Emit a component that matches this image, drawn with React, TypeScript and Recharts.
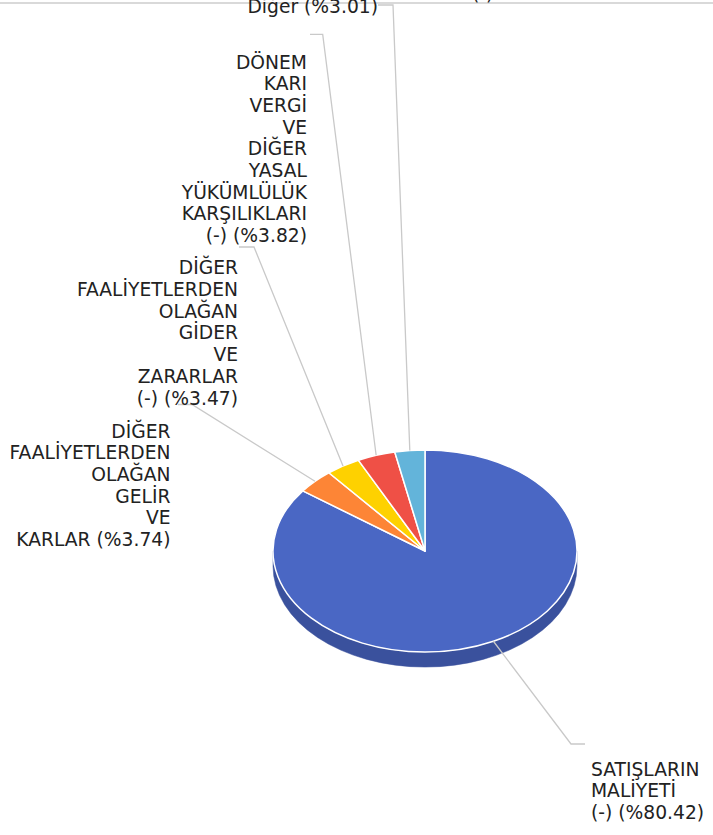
import { PieChart, Pie, Cell } from 'recharts';

const categories = [
  'SATIŞLARIN\nMALİYETİ\n(-)',
  'DİĞER\nFAALİYETLERDEN\nOLAĞAN\nGELİR\nVE\nKARLAR',
  'DİĞER\nFAALİYETLERDEN\nOLAĞAN\nGİDER\nVE\nZARARLAR\n(-)',
  'DÖNEM\nKARI\nVERGİ\nVE\nDİĞER\nYASAL\nYÜKÜMLÜLÜK\nKARŞILIKLARI\n(-)',
  'Diğer',
];
const values = [80.42, 3.74, 3.47, 3.82, 3.01];

const topColors = ['#4a67c4', '#fd8536', '#fed100', '#ef5046', '#63b4da'];
const sideColors = ['#3a519d', '#c86a2b', '#caa600', '#bd4038', '#4f8fae'];

// where Excel put each label: leader elbow, leader end, text edge, first baseline
const labelLayout = [
  { elbow: [571, 744], end: [585, 744], x: 591, y: 775.5, anchor: 'start' },
  { elbow: [192, 404.5], end: [178, 404.5], x: 170.5, y: 437.5, anchor: 'end' },
  { elbow: [254, 247], end: [239, 247], x: 238, y: 274.3, anchor: 'end' },
  { elbow: [322.7, 34.3], end: [310, 34.3], x: 307, y: 68.5, anchor: 'end' },
  { elbow: [393, 5], end: [378, 5], x: 378, y: 12.5, anchor: 'end' },
];

const data = categories.map((name, i) => ({ name, value: values[i], side: sideColors[i] }));

const TILT = 0.665;
const DEPTH = 15;
const LINE_H = 21.7;
const FONT_SIZE = 18.7;
const FONT = '"DejaVu Sans", Verdana, sans-serif';
const RAD = Math.PI / 180;

const pt = (cx: number, cy: number, rx: number, ry: number, deg: number) => [
  cx + rx * Math.cos(deg * RAD),
  cy - ry * Math.sin(deg * RAD),
];

function EllipseSector(props: any) {
  const { cx, cy, outerRadius, startAngle, endAngle, fill, payload } = props;
  const rx = outerRadius;
  const ry = outerRadius * TILT;
  const lo = Math.min(startAngle, endAngle);
  const hi = Math.max(startAngle, endAngle);

  // side wall only for the front (lower) half of the disc
  const walls: string[] = [];
  for (let k = -2; k <= 2; k++) {
    const a = Math.max(lo, -180 + 360 * k);
    const b = Math.min(hi, 360 * k);
    if (b > a) {
      const [x1, y1] = pt(cx, cy, rx, ry, b);
      const [x2, y2] = pt(cx, cy, rx, ry, a);
      walls.push(
        `M${x1},${y1} A${rx},${ry} 0 0 1 ${x2},${y2} L${x2},${y2 + DEPTH} A${rx},${ry} 0 0 0 ${x1},${y1 + DEPTH} Z`
      );
    }
  }

  const [sx, sy] = pt(cx, cy, rx, ry, startAngle);
  const [ex, ey] = pt(cx, cy, rx, ry, endAngle);
  const large = Math.abs(startAngle - endAngle) > 180 ? 1 : 0;
  const top = `M${cx},${cy} L${sx},${sy} A${rx},${ry} 0 ${large} 1 ${ex},${ey} Z`;
  const side = payload?.side ?? payload?.payload?.side ?? '#3a519d';

  return (
    <g>
      {walls.map((d, i) => (
        <path key={i} d={d} fill={side} stroke={side} strokeWidth={0.5} />
      ))}
      <path d={top} fill={fill} stroke="#ffffff" strokeWidth={1.5} strokeLinejoin="round" />
    </g>
  );
}

const renderLabel = (props: any) => {
  const { cx, cy, outerRadius, midAngle, index } = props;
  const L = labelLayout[index];
  const [sx, sy] = pt(cx, cy, outerRadius, outerRadius * TILT, midAngle);
  const lines = categories[index].split('\n');
  lines[lines.length - 1] += ` (%${values[index].toFixed(2)})`;
  return (
    <g key={`lbl-${index}`}>
      <polyline
        points={`${sx},${sy} ${L.elbow[0]},${L.elbow[1]} ${L.end[0]},${L.end[1]}`}
        fill="none"
        stroke="#c9c9c9"
        strokeWidth={1.3}
      />
      <text textAnchor={L.anchor} fontFamily={FONT} fontSize={FONT_SIZE} fill="#222">
        {lines.map((ln, i) => (
          <tspan key={i} x={L.x} y={L.y + i * LINE_H}>
            {ln}
          </tspan>
        ))}
      </text>
    </g>
  );
};

export default function App() {
  return (
    <div style={{ position: 'absolute', left: 0, top: 0, width: 713, height: 835, background: '#fff' }}>
      <svg width={713} height={835} style={{ position: 'absolute', left: 0, top: 0 }}>
        <line x1={0} y1={3} x2={713} y2={3} stroke="#cccccc" strokeWidth={1.5} />
        <text x={472} y={0.3} fontFamily={FONT} fontSize={FONT_SIZE} fill="#222">
          (-)
        </text>
      </svg>
      <div style={{ position: 'absolute', left: 0, top: 0 }}>
        <PieChart width={713} height={835} margin={{ top: 0, right: 0, bottom: 0, left: 0 }}>
          <Pie
            data={data}
            dataKey="value"
            nameKey="name"
            cx={425}
            cy={551}
            outerRadius={152}
            startAngle={90}
            endAngle={-270}
            shape={EllipseSector}
            label={renderLabel}
            labelLine={false}
            isAnimationActive={false}
          >
            {data.map((d, i) => (
              <Cell key={d.name} fill={topColors[i]} />
            ))}
          </Pie>
        </PieChart>
      </div>
    </div>
  );
}
